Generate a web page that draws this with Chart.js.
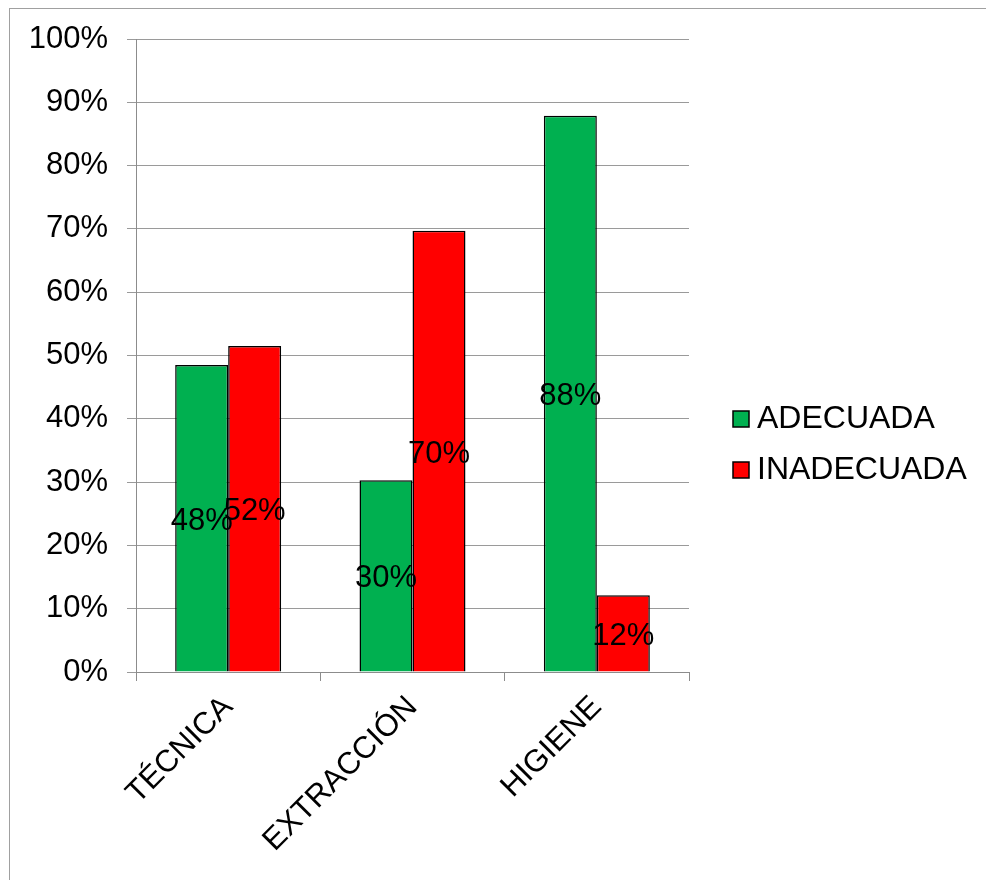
<!DOCTYPE html>
<html>
<head>
<meta charset="utf-8">
<script src="https://cdn.jsdelivr.net/npm/chart.js@4"></script>
<style>
  body { margin: 0; background: #fff; }
  #frame { position: absolute; left: 9px; top: 8px; width: 1200px; height: 1200px; border: 1px solid #a0a0a0; }
  #wrap { position: absolute; left: 0; top: 0; width: 986px; height: 880px; }
</style>
</head>
<body>
<div id="frame"></div>
<div id="wrap"><canvas id="chart"></canvas></div>
<script>
const categories = ['TÉCNICA', 'EXTRACCIÓN', 'HIGIENE'];
const adecuada = [48.48, 30.30, 87.88];
const inadecuada = [51.52, 69.70, 12.12];
const yTicks = [0, 10, 20, 30, 40, 50, 60, 70, 80, 90, 100];

const FONT = 'Arial, "Liberation Sans", sans-serif';

// value labels in the middle of each bar
const barLabels = {
  id: 'barLabels',
  afterDatasetsDraw(chart) {
    const ctx = chart.ctx;
    ctx.save();
    ctx.font = '31px ' + FONT;
    ctx.fillStyle = '#000';
    ctx.textAlign = 'center';
    ctx.textBaseline = 'middle';
    chart.data.datasets.forEach((ds, i) => {
      chart.getDatasetMeta(i).data.forEach((bar, j) => {
        const p = bar.getProps(['x', 'y', 'base'], true);
        ctx.fillText(Math.round(ds.data[j]) + '%', p.x, (p.y + p.base) / 2 + 3);
      });
    });
    ctx.restore();
  }
};

// legend drawn to the right of the plot
const sideLegend = {
  id: 'sideLegend',
  afterDraw(chart) {
    const ctx = chart.ctx;
    const x = chart.chartArea.right + 44;
    let y = 419;
    ctx.save();
    ctx.font = '32px ' + FONT;
    ctx.textBaseline = 'middle';
    chart.data.datasets.forEach(ds => {
      ctx.fillStyle = ds.backgroundColor;
      ctx.fillRect(x, y - 8, 16, 16);
      ctx.strokeStyle = '#000';
      ctx.lineWidth = 1.5;
      ctx.strokeRect(x, y - 8, 16, 16);
      ctx.fillStyle = '#000';
      ctx.fillText(ds.label, x + 24, y);
      y += 51;
    });
    ctx.restore();
  }
};

new Chart(document.getElementById('chart'), {
  type: 'bar',
  data: {
    labels: categories,
    datasets: [
      { label: 'ADECUADA', data: adecuada, backgroundColor: '#00b050', borderColor: '#000', borderWidth: 1.5 },
      { label: 'INADECUADA', data: inadecuada, backgroundColor: '#ff0000', borderColor: '#000', borderWidth: 1.5 }
    ]
  },
  options: {
    responsive: true,
    maintainAspectRatio: false,
    animation: false,
    layout: { padding: { top: 39, right: 297, left: 0, bottom: 0 } },
    datasets: { bar: { categoryPercentage: 0.575, barPercentage: 1 } },
    plugins: { legend: { display: false }, tooltip: { enabled: false } },
    scales: {
      x: {
        grid: { offset: true, drawOnChartArea: false, drawTicks: true, tickLength: 9, color: '#8c8c8c' },
        border: { color: '#8c8c8c', width: 1 },
        ticks: { color: '#000', font: { family: FONT, size: 31 }, minRotation: 45, maxRotation: 45, padding: 8 },
        afterFit(scale) { scale.height = 208; }
      },
      y: {
        min: 0,
        max: 100,
        afterBuildTicks(scale) { scale.ticks = yTicks.map(v => ({ value: v })); },
        grid: { color: '#9a9a9a', tickLength: 9 },
        border: { color: '#8c8c8c', width: 1 },
        ticks: { color: '#000', font: { family: FONT, size: 31 }, padding: 19, callback: v => v + '%' },
        afterFit(scale) { scale.width = 136; }
      }
    }
  },
  plugins: [barLabels, sideLegend]
});
</script>
</body>
</html>
